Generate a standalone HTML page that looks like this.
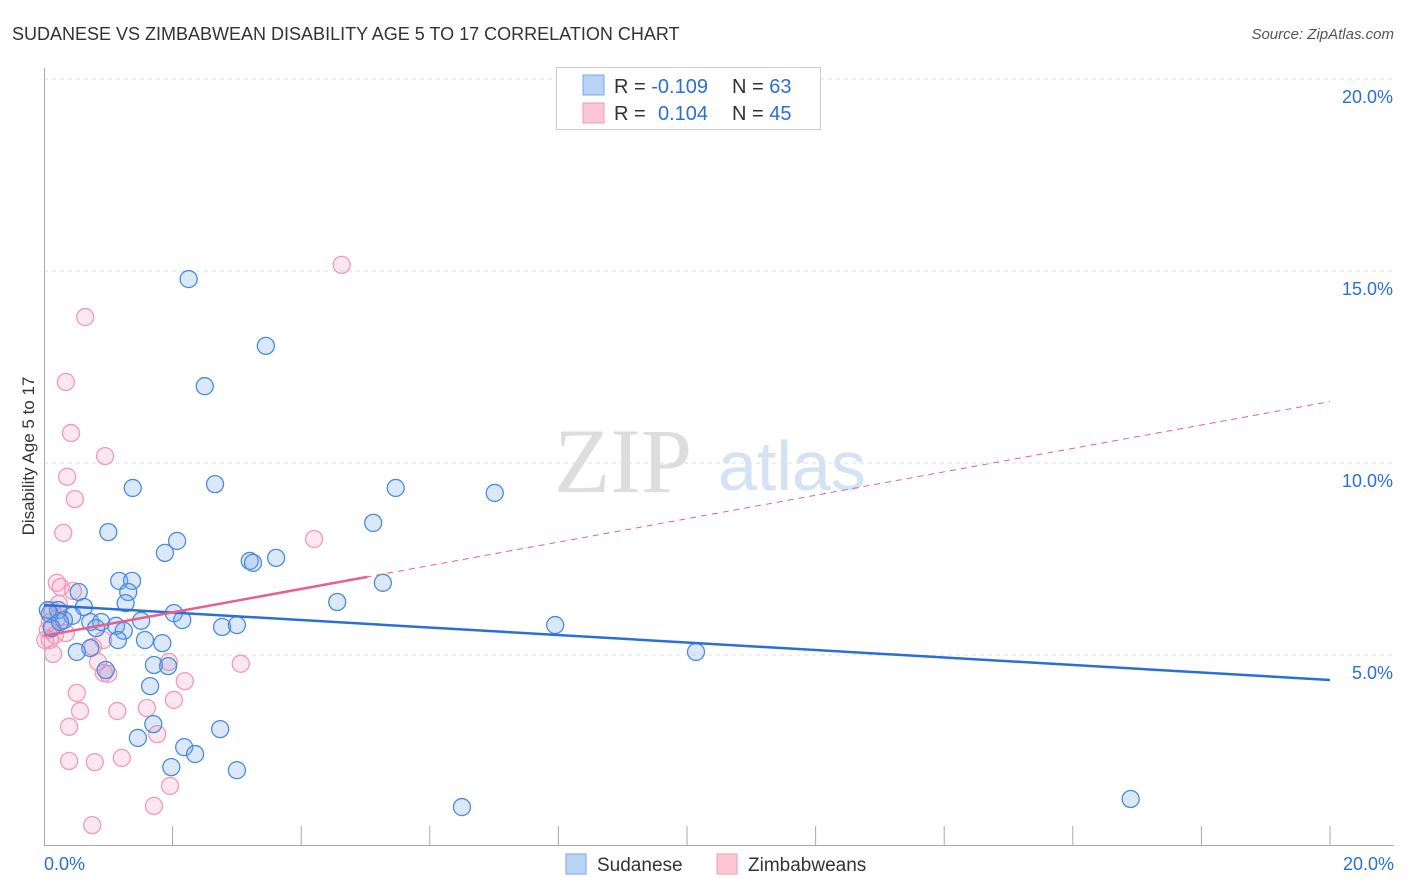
<!DOCTYPE html>
<html><head><meta charset="utf-8"><style>
body{margin:0;background:#fff;font-family:"Liberation Sans",sans-serif;}
#wrap{position:relative;width:1406px;height:892px;overflow:hidden;}
</style></head><body><div id="wrap">
<svg id="svg" width="1406" height="892" xmlns="http://www.w3.org/2000/svg">
<text x="12" y="40" font-size="18" fill="#333">SUDANESE VS ZIMBABWEAN DISABILITY AGE 5 TO 17 CORRELATION CHART</text>
<text x="1394" y="39" font-size="15" fill="#555" font-style="italic" text-anchor="end">Source: ZipAtlas.com</text>
<text transform="translate(34,456) rotate(-90)" font-size="17" fill="#333" text-anchor="middle">Disability Age 5 to 17</text>
<text x="554" y="492" font-size="92" fill="#ddd" font-family="Liberation Serif,serif">ZIP</text>
<text x="718" y="490" font-size="70" fill="#d4e2f5">atlas</text>
<g id="grid"></g><g id="pts"></g><g id="lines"></g>
<g>
<rect x="556.5" y="67.5" width="264" height="62" fill="#fff" stroke="#ccc"/>
<rect x="583" y="75" width="21" height="20" fill="#b8d3f5" stroke="#7aa8e8"/>
<rect x="583" y="103" width="21" height="20" fill="#fbc6d6" stroke="#f19ab5"/>
<text x="614" y="93" font-size="20" fill="#333">R = <tspan fill="#2a6fd6">-0.109</tspan><tspan x="732">N = </tspan><tspan fill="#2a6fd6">63</tspan></text>
<text x="614" y="120" font-size="20" fill="#333">R = <tspan x="658" fill="#2a6fd6">0.104</tspan><tspan x="732">N = </tspan><tspan fill="#2a6fd6">45</tspan></text>
</g>
<g>
<rect x="566" y="854" width="20" height="20" fill="#b8d3f5" stroke="#7aa8e8"/>
<text x="597" y="871" font-size="19" fill="#333">Sudanese</text>
<rect x="717" y="854" width="20" height="20" fill="#fbc6d6" stroke="#f19ab5"/>
<text x="748" y="871" font-size="19" fill="#333">Zimbabweans</text>
</g>
</svg>
<script>
const yTicks=[5,10,15,20];
const xTickCount=10;
const blueX=[2.25,3.45,2.5,1.38,2.66,5.47,7.01,5.12,1.0,2.07,1.88,3.2,3.25,3.61,1.17,1.37,5.27,0.54,1.31,1.27,4.56,0.62,0.22,0.09,2.02,2.15,0.44,0.31,0.72,0.89,1.12,1.51,1.24,0.81,2.77,3.0,7.95,1.57,1.84,1.15,0.72,0.51,10.14,1.71,1.93,0.96,1.65,1.7,2.74,1.46,2.18,2.35,1.98,3.0,6.5,16.9,0.06,0.12,0.25];
const blueY=[14.79,13.05,12.0,9.35,9.45,9.35,9.22,8.44,8.2,7.97,7.66,7.45,7.4,7.53,6.93,6.93,6.88,6.64,6.64,6.35,6.38,6.25,6.17,6.07,6.09,5.91,6.02,5.91,5.86,5.86,5.76,5.89,5.63,5.7,5.73,5.78,5.78,5.39,5.31,5.39,5.18,5.08,5.08,4.74,4.71,4.61,4.19,3.2,3.07,2.84,2.6,2.42,2.08,2.0,1.04,1.25,6.17,5.7,5.86];
const pinkX=[4.63,0.64,0.34,0.42,0.95,0.36,0.48,0.3,4.2,0.2,0.26,0.45,0.23,0.12,0.22,0.09,0.06,0.17,0.09,0.34,0.92,0.76,0.14,0.84,1.94,3.06,0.93,1.0,2.19,0.51,2.02,0.56,1.14,1.6,0.39,1.76,0.39,0.79,1.21,1.96,1.71,0.75,0.02];
const pinkY=[15.16,13.8,12.11,10.78,10.18,9.64,9.06,8.18,8.02,6.88,6.77,6.67,6.33,6.17,5.99,5.86,5.65,5.52,5.39,5.57,5.39,5.21,5.03,4.82,4.82,4.77,4.53,4.51,4.32,4.01,3.83,3.54,3.54,3.62,3.13,2.94,2.24,2.21,2.32,1.59,1.07,0.57,5.39];
const blueTrend=[6.3,4.35];
const pinkTrend=[5.5,11.6];
const NS="http://www.w3.org/2000/svg";
const X=v=>44+v*64.3, Y=v=>847-v*38.4;
function mk(t,a,p){const e=document.createElementNS(NS,t);for(const k in a)e.setAttribute(k,a[k]);document.getElementById(p).appendChild(e);return e;}
const g='grid';
yTicks.forEach(t=>{
 const l=mk('line',{x1:44,x2:1394,y1:Y(t),y2:Y(t),stroke:'#ddd','stroke-dasharray':'4,4'},g);
 
 
 const tx=mk('text',{x:1393,y:Y(t)+24,'font-size':18,fill:'#2a6fd6','text-anchor':'end'},g);tx.textContent=t.toFixed(1)+'%';
 
 
});
mk('line',{x1:44,x2:1394,y1:79,y2:79,stroke:'#ddd','stroke-dasharray':'4,4'},g);
mk('line',{x1:44.5,x2:44.5,y1:68,y2:845,stroke:'#aaa'},g);
mk('line',{x1:44,x2:1394,y1:845.5,y2:845.5,stroke:'#aaa'},g);
for(let i=1;i<=xTickCount;i++){const l=mk('line',{x1:X(i*2),x2:X(i*2),y1:826,y2:845,stroke:'#aaa'},g);
 
 }
let t0=mk('text',{x:44,y:870,'font-size':18,fill:'#2a6fd6'},g);t0.textContent='0.0%';


let t1=mk('text',{x:1394,y:870,'font-size':18,fill:'#2a6fd6','text-anchor':'end'},g);t1.textContent='20.0%';


pinkX.forEach((v,i)=>{const c=mk('circle',{cx:X(v),cy:Y(pinkY[i]),r:8.5,fill:'rgba(245,160,190,0.25)',stroke:'#f19ab5','stroke-width':1.3},'pts');
 
 });
blueX.forEach((v,i)=>{const c=mk('circle',{cx:X(v),cy:Y(blueY[i]),r:8.5,fill:'rgba(110,165,235,0.25)',stroke:'#4a8be0','stroke-width':1.3},'pts');
 
 });
const bl=mk('line',{x1:X(0),x2:X(20),y1:Y(blueTrend[0]),y2:Y(blueTrend[1]),stroke:'#2a6fd6','stroke-width':2.5},'lines');


const py=x=>pinkTrend[0]+(pinkTrend[1]-pinkTrend[0])*x/20;
const pd=mk('line',{x1:X(5),x2:X(20),y1:Y(py(5)),y2:Y(py(20)),stroke:'#e8608c','stroke-width':1,'stroke-dasharray':'6,5'},'lines');


const pl=mk('line',{x1:X(0),x2:X(5.03),y1:Y(py(0)),y2:Y(py(5.03)),stroke:'#e8608c','stroke-width':2.5},'lines');


</script></div></body></html>
